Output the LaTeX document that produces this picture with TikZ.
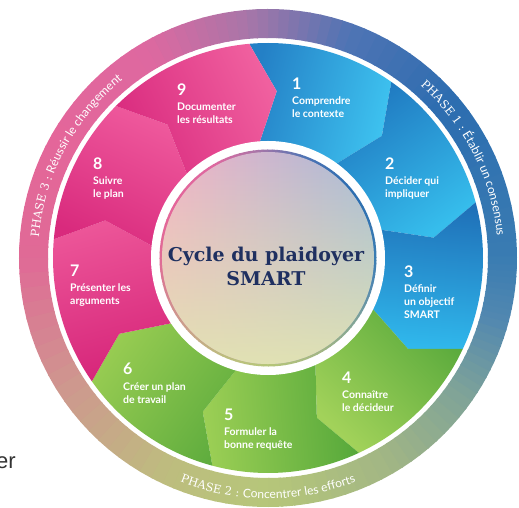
\documentclass[tikz,border=0pt]{standalone}
\usepackage{fontspec}
\setsansfont{Lato}
\newfontfamily\slabfont{DejaVu Serif}
\newfontfamily\erfont{Liberation Sans}
\usetikzlibrary{decorations.text,fadings}
% ring key colours
\definecolor{k0}{HTML}{3A7CB2}
\definecolor{k1}{HTML}{2C6DB0}
\definecolor{k2}{HTML}{4F74B4}
\definecolor{k3}{HTML}{A876A8}
\definecolor{k4}{HTML}{DE68A0}
\definecolor{k5}{HTML}{E4669A}
\definecolor{k6}{HTML}{E06A96}
\definecolor{k7}{HTML}{CD9A8E}
\definecolor{k8}{HTML}{BDBD7E}
\definecolor{k9}{HTML}{B6C67A}
\definecolor{k10}{HTML}{A2B684}
\definecolor{k11}{HTML}{7FA398}
\definecolor{k12}{HTML}{5288B0}
% segment colours
\definecolor{bL1}{HTML}{3EC3F0}\definecolor{bD1}{HTML}{2480C6}
\definecolor{bL2}{HTML}{36BDEC}\definecolor{bD2}{HTML}{1F78C0}
\definecolor{bL3}{HTML}{30B8EC}\definecolor{bD3}{HTML}{1F70B8}
\definecolor{gL4}{HTML}{A2D25A}\definecolor{gD4}{HTML}{5AAA3C}
\definecolor{gL5}{HTML}{9CCF55}\definecolor{gD5}{HTML}{55A83A}
\definecolor{gL6}{HTML}{98CC52}\definecolor{gD6}{HTML}{60AD3E}
\definecolor{pL7}{HTML}{EC5598}\definecolor{pD7}{HTML}{D62479}
\definecolor{pL8}{HTML}{EF5A9D}\definecolor{pD8}{HTML}{D92A7D}
\definecolor{pL9}{HTML}{F0609F}\definecolor{pD9}{HTML}{D92A7E}
\definecolor{cPink}{HTML}{F3B2C6}
\definecolor{cBlue}{HTML}{A5BCD9}
\definecolor{cGreen}{HTML}{E2E4B2}
\definecolor{navy}{HTML}{1F3060}

\newcommand\colorring[2]{%
  \foreach \sa/\ea/\ca/\cb in {0/40/k0/k1,40/70/k1/k2,70/95/k2/k3,95/120/k3/k4,
      120/150/k4/k5,150/180/k5/k6,180/215/k6/k7,215/245/k7/k8,245/270/k8/k9,
      270/300/k9/k10,300/325/k10/k11,325/345/k11/k12,345/360/k12/k0}{%
    \foreach \t in {0,...,9}{%
      \pgfmathsetmacro\s{\sa+(\ea-\sa)*\t/10}%
      \pgfmathsetmacro\e{\sa+(\ea-\sa)*(\t+1)/10+0.4}%
      \pgfmathtruncatemacro\p{95-10*\t}%
      \fill[\ca!\p!\cb] (\s:#1) arc[start angle=\s, end angle=\e, radius=#1pt]
        -- (\e:#2) arc[start angle=\e, end angle=\s, radius=#2pt] -- cycle;
    }%
  }%
}

\tikzset{
  numsty/.style={anchor=base west, inner sep=0pt, text=white,
    font=\sffamily\bfseries\fontsize{16}{16}\selectfont},
  labsty/.style={anchor=base west, inner sep=0pt, text=white,
    font=\sffamily\bfseries\fontsize{10.5}{12}\selectfont},
  titlesty/.style={anchor=base, inner sep=0pt, text=navy,
    font=\slabfont\bfseries\fontsize{19}{22}\selectfont},
  phasedeco/.style={decorate, decoration={text along path, text align=center,
    text color=white, text={#1}}}
}

\newcommand\segtext[5]{%
  \node[numsty] (#1n) at ({#2-268},{258-#3}) {#4};
  \foreach \ln [count=\i] in {#5}{%
    \node[labsty] (#1l\i) at ({#2-268},{258-#3-15-13*(\i-1)}) {\ln};
  }%
}

\begin{document}
\begin{tikzpicture}[x=1pt,y=1pt]
\useasboundingbox (-268,-250) rectangle (251,258);

% outer ring
\colorring{220}{249}

% segments
\foreach \k/\L/\D in {1/bL1/bD1,2/bL2/bD2,3/bL3/bD3,4/gL4/gD4,5/gL5/gD5,
    6/gL6/gD6,7/pL7/pD7,8/pL8/pD8,9/pL9/pD9}{%
  \pgfmathsetmacro\a{95-40*(\k-1)}
  \pgfmathsetmacro\b{\a-40}
  \pgfmathsetmacro\sh{\a-20-180}
  \shade[top color=\L, bottom color=\D, shading angle=\sh]
    (\a:215) arc[start angle=\a, end angle=\b, radius=215pt]
    -- ({\b-8}:167) -- (\b:112) arc[start angle=\b, end angle=\a, radius=112pt]
    -- ({\a-8}:167) -- cycle;
}

% centre circle
\fill[white] (0,0) circle[radius=117pt];
\colorring{105.5}{108.5}
\shade[left color=cPink, right color=cBlue] (0,0) circle[radius=106pt];
\fill[cGreen, path fading=north, fill opacity=0.95] (0,0) circle[radius=106pt];

\node[titlesty] (t1) at (-2,-4) {Cycle du plaidoyer};
\node[titlesty] (t2) at (-2,-28) {SMART};

% segment texts
\segtext{s1}{292}{90}{1}{Comprendre,le contexte}
\segtext{s2}{385}{170}{2}{Décider qui,impliquer}
\segtext{s3}{404}{278}{3}{Définir,un objectif,SMART}
\segtext{s4}{342}{383}{4}{Connaître,le décideur}
\segtext{s5}{224}{420}{5}{Formuler la,bonne requête}
\segtext{s6}{123}{375}{6}{Créer un plan,de travail}
\segtext{s7}{70}{277}{7}{Présenter les,arguments}
\segtext{s8}{93}{170}{8}{Suivre,le plan}
\segtext{s9}{177}{96}{9}{Documenter,les résultats}

% phase labels
\path[phasedeco={|\slabfont\fontsize{11.5}{13}\selectfont|PHASE 1 : |\sffamily\fontsize{12}{13}\selectfont|Établir un consensus}]
  (67:230) arc[start angle=67, end angle=-13, radius=230pt];
\path[phasedeco={|\slabfont\fontsize{11.5}{13}\selectfont|PHASE 3 : |\sffamily\fontsize{12}{13}\selectfont|Réussir le changement}]
  (194:230) arc[start angle=194, end angle=110, radius=230pt];
\path[phasedeco={|\slabfont\fontsize{11.5}{13}\selectfont|PHASE 2 : |\sffamily\fontsize{12}{13}\selectfont|Concentrer les efforts}]
  (-140:240.5) arc[start angle=-140, end angle=-40, radius=240.5pt];

% cut-off fragment
\node[anchor=base east, inner sep=0pt, text=black!80,
  font=\erfont\fontsize{22}{22}\selectfont] (frag) at (-252,-210) {er};
\end{tikzpicture}
\end{document}
